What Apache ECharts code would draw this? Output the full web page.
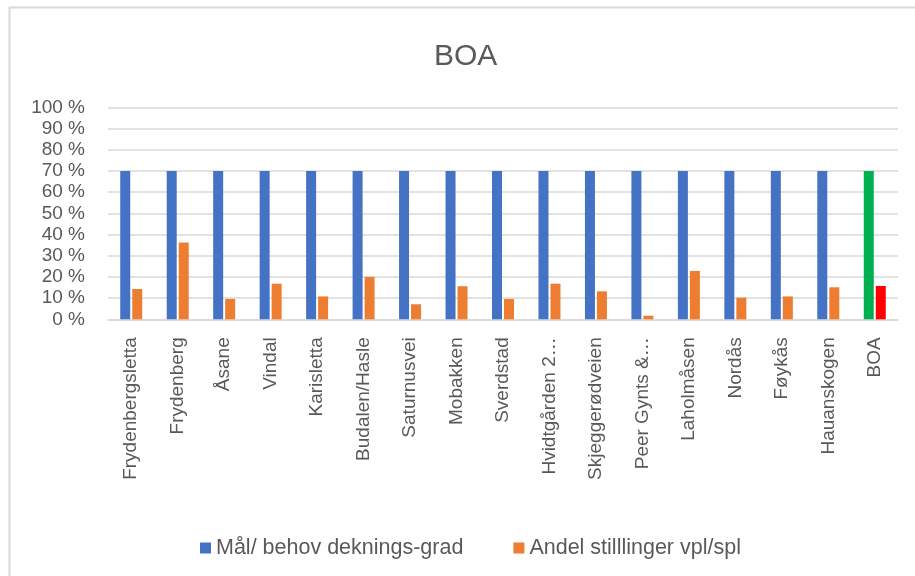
<!DOCTYPE html>
<html>
<head>
<meta charset="utf-8">
<script src="https://cdn.jsdelivr.net/npm/echarts@6/dist/echarts.min.js"></script>
<style>html,body{margin:0;padding:0;background:#fff}#c{width:915px;height:576px}</style>
</head>
<body>
<div id="c"></div>
<script>
const categories = ["Frydenbergsletta","Frydenberg","Åsane","Vindal","Karisletta","Budalen/Hasle","Saturnusvei","Mobakken","Sverdstad","Hvidtgården 2…","Skjeggerødveien","Peer Gynts &…","Laholmåsen","Nordås","Føykås","Hauanskogen","BOA"];
const maalValues = [70,70,70,70,70,70,70,70,70,70,70,70,70,70,70,70,70];
const andelValues = [14.3,36.2,9.6,16.8,10.8,20,7.1,15.6,9.6,16.8,13.2,1.7,22.8,10.2,10.8,15.1,15.7];
const yTicks = [0,10,20,30,40,50,60,70,80,90,100];
const seriesNames = ["Mål/ behov deknings-grad","Andel stilllinger vpl/spl"];

const txt = '#595959';
const font = 'Liberation Sans';
const chart = echarts.init(document.getElementById('c'), null, {renderer:'canvas'});
const lastIdx = categories.length - 1;
chart.setOption({
  animation:false,
  backgroundColor:'#fff',
  graphic:[{type:'rect',shape:{x:9.5,y:7.5,width:930,height:600},style:{fill:'none',stroke:'#d9d9d9',lineWidth:2}}],
  title:{text:'BOA',left:429,top:37,textStyle:{fontFamily:font,fontSize:30,fontWeight:'normal',color:txt}},
  legend:{left:195,top:532,itemWidth:11,itemHeight:11,itemGap:50,icon:'rect',
    textStyle:{fontFamily:font,fontSize:21.5,color:txt},data:seriesNames},
  grid:{left:108,right:17,top:107.3,bottom:256.7,containLabel:false},
  xAxis:{type:'category',data:categories,
    axisLine:{lineStyle:{color:'#d9d9d9',width:1.5}},axisTick:{show:false},
    axisLabel:{rotate:90,interval:0,margin:18,fontFamily:font,fontSize:19,color:txt}},
  yAxis:{type:'value',min:0,max:100,interval:10,
    axisLine:{show:false},axisTick:{show:false},
    splitLine:{lineStyle:{color:'#d9d9d9',width:1.5}},
    axisLabel:{margin:23,fontFamily:font,fontSize:19,color:txt,formatter:v=>v+' %'}},
  series:[
    {name:seriesNames[0],type:'bar',barWidth:10,barGap:'20%',itemStyle:{color:'#4472C4'},
      data:maalValues.map((v,i)=>i===lastIdx?{value:v,itemStyle:{color:'#00B050'}}:v)},
    {name:seriesNames[1],type:'bar',barWidth:10,barGap:'20%',itemStyle:{color:'#ED7D31'},
      data:andelValues.map((v,i)=>i===lastIdx?{value:v,itemStyle:{color:'#FF0000'}}:v)}
  ]
});
</script>
</body>
</html>
